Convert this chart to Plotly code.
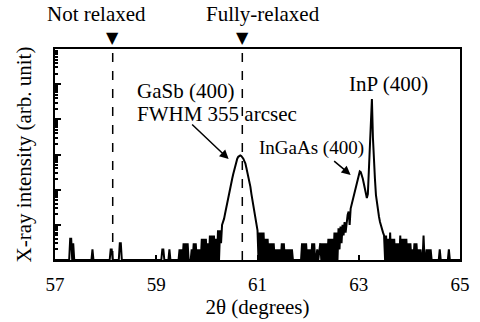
import plotly.graph_objects as go

# XRD 2theta scan: start angle, step and counts
SCAN_START = 57.0
SCAN_STEP = 0.02
counts = [
    1, 1, 1, 1, 1, 1, 1, 1, 1, 1,            # 57.00
    1, 1, 1, 1, 1, 4, 4, 1, 3, 1,            # 57.20
    1, 1, 1, 1, 1, 1, 1, 1, 1, 1,            # 57.40
    1, 1, 1, 1, 1, 1, 1, 2, 1, 1,            # 57.60
    1, 1, 1, 1, 1, 1, 1, 1, 1, 1,            # 57.80
    1, 1, 1, 1, 1, 2, 2, 1, 1, 1,            # 58.00
    1, 1, 1, 1, 3, 3, 1, 1, 1, 1,            # 58.20
    1, 1, 1, 1, 1, 1, 1, 1, 1, 1,            # 58.40
    1, 1, 1, 1, 1, 1, 1, 1, 1, 1,            # 58.60
    1, 1, 1, 1, 1, 1, 1, 1, 1, 1,            # 58.80
    1, 1, 1, 1, 1, 1, 2, 2, 1, 1,            # 59.00
    1, 1, 1, 2, 1, 1, 1, 1, 1, 1,            # 59.20
    1, 1, 1, 2, 1, 2, 1, 3, 1, 3,            # 59.40
    1, 3, 1, 1, 1, 2, 1, 3, 1, 3,            # 59.60
    1, 2, 1, 2, 1, 4, 1, 4, 1, 4,            # 59.80
    1, 3, 1, 5, 1, 5, 1, 5, 1, 4,            # 60.00
    1, 7, 1, 7, 3, 10, 12, 15, 21, 30,       # 60.20
    40, 56, 78, 107, 150, 205, 275, 360, 470, 620,   # 60.40
    760, 860, 920, 940, 910, 840, 760, 650, 560, 420,  # 60.60
    315, 240, 170, 120, 75, 50, 36, 20, 13, 9,  # 60.80
    7, 1, 6, 1, 6, 1, 6, 1, 4, 1,            # 61.00
    4, 1, 3, 1, 3, 1, 3, 1, 2, 1,            # 61.20
    2, 1, 2, 1, 3, 1, 3, 1, 2, 1,            # 61.40
    2, 1, 2, 1, 2, 1, 1, 1, 1, 1,            # 61.60
    1, 1, 1, 1, 3, 1, 3, 1, 3, 1,            # 61.80
    2, 1, 2, 1, 3, 1, 3, 1, 1, 2,            # 62.00
    1, 2, 3, 1, 3, 1, 3, 1, 3, 1,            # 62.20
    4, 1, 4, 1, 4, 1, 6, 1, 6, 1,            # 62.40
    8, 2, 9, 3, 10, 5, 12, 6, 13, 19,        # 62.60
    24, 10, 29, 38, 52, 68, 86, 120, 165, 215,   # 62.80
    290, 330, 315, 265, 205, 150, 105, 78, 58, 75,  # 63.00
    300, 1500, 7000, 38000, 3000, 520, 200, 70, 38, 24,  # 63.20
    17, 12, 9, 8, 6, 5, 1, 5, 1, 4,          # 63.40
    1, 6, 1, 4, 1, 4, 1, 3, 1, 3,            # 63.60
    1, 5, 1, 4, 1, 4, 1, 4, 1, 3,            # 63.80
    1, 3, 1, 2, 1, 3, 1, 3, 1, 2,            # 64.00
    1, 2, 1, 1, 5, 1, 1, 2, 1, 2,            # 64.20
    1, 2, 1, 1, 1, 1, 1, 1, 1, 1,            # 64.40
    2, 1, 1, 1, 1, 1, 1, 1, 1, 2,            # 64.60
    1, 1, 1, 1, 1, 1, 1, 1, 1, 1,            # 64.80
    1,                                       # 65.00
]
two_theta = [round(SCAN_START + SCAN_STEP * i, 2) for i in range(len(counts))]

x_ticks = [57, 59, 61, 63, 65]
relax_pos = [58.14, 60.70]
relax_labels = ["Not relaxed", "Fully-relaxed"]
relax_label_shift = [-16, 21]

FONT = "Liberation Serif"
L, T, W, H = 55, 49, 415, 214


def px(xp):
    return (xp - L) / W


def py(yp):
    return (T + H - yp) / H


fig = go.Figure()
fig.add_trace(go.Scatter(x=two_theta, y=counts, mode="lines",
                         line=dict(color="black", width=2), showlegend=False,
                         hoverinfo="skip"))

for xp, lab, sh in zip(relax_pos, relax_labels, relax_label_shift):
    fig.add_shape(type="line", xref="x", yref="paper", x0=xp, x1=xp, y0=0, y1=1,
                  line=dict(color="black", width=1.5, dash="dash"))
    fig.add_annotation(x=xp, xref="x", y=1, yref="paper", yanchor="bottom",
                       yshift=0, text="\u25bc", showarrow=False,
                       font=dict(family="DejaVu Sans", size=16, color="black"))
    fig.add_annotation(x=xp, xref="x", y=1, yref="paper", yanchor="bottom",
                       yshift=21, xshift=sh, text=lab, showarrow=False,
                       font=dict(family=FONT, size=21, color="black"))

# peak labels
fig.add_annotation(x=px(137), xref="paper", y=py(92), yref="paper",
                   xanchor="left", yanchor="middle",
                   text="GaSb (400)", showarrow=False,
                   font=dict(family=FONT, size=21, color="black"))
fig.add_annotation(x=px(137), xref="paper", y=py(115), yref="paper",
                   xanchor="left", yanchor="middle",
                   text="FWHM 355 arcsec", showarrow=False,
                   font=dict(family=FONT, size=21, color="black"))
fig.add_annotation(x=px(354), xref="paper", y=py(84), yref="paper",
                   xanchor="left", yanchor="middle",
                   text="InP (400)", showarrow=False,
                   font=dict(family=FONT, size=21, color="black"))
fig.add_annotation(x=px(262), xref="paper", y=py(149), yref="paper",
                   xanchor="left", yanchor="middle",
                   text="InGaAs (400)", showarrow=False,
                   font=dict(family=FONT, size=19, color="black"))

# arrows
fig.add_annotation(x=60.43, y=2.87, xref="x", yref="y", ax=-38, ay=-36,
                   text="", showarrow=True, arrowhead=2, arrowsize=1.2,
                   arrowwidth=1.5, arrowcolor="black")
fig.add_annotation(x=62.84, y=2.42, xref="x", yref="y", ax=-18, ay=-15,
                   text="", showarrow=True, arrowhead=2, arrowsize=1.2,
                   arrowwidth=1.5, arrowcolor="black")

fig.update_xaxes(range=[57, 65], tickvals=x_ticks, ticks="inside", ticklen=5,
                 tickwidth=1.5, tickcolor="black", ticklabelstandoff=6,
                 showline=True, linewidth=1.5, linecolor="black", mirror=True,
                 showgrid=False, zeroline=False,
                 tickfont=dict(family=FONT, size=19, color="black"),
                 title=dict(text="2\u03b8 (degrees)", standoff=3,
                            font=dict(family=FONT, size=21, color="black")))
fig.update_yaxes(type="log", range=[0, 6], dtick=1, ticks="inside", ticklen=6,
                 tickwidth=1.5, tickcolor="black", showticklabels=False,
                 minor=dict(ticks="inside", ticklen=3, dtick="D1",
                            tickcolor="black", showgrid=False),
                 showline=True, linewidth=1.5, linecolor="black", mirror=True,
                 showgrid=False, zeroline=False,
                 title=dict(text="X-ray intensity (arb. unit)", standoff=16,
                            font=dict(family=FONT, size=21, color="black")))

fig.update_layout(width=480, height=322, margin=dict(l=L, r=480 - L - W, t=T, b=322 - T - H),
                  plot_bgcolor="white", paper_bgcolor="white")

fig.write_html("out.html", config={"displayModeBar": False},
               post_script="document.body.style.margin='0';")
